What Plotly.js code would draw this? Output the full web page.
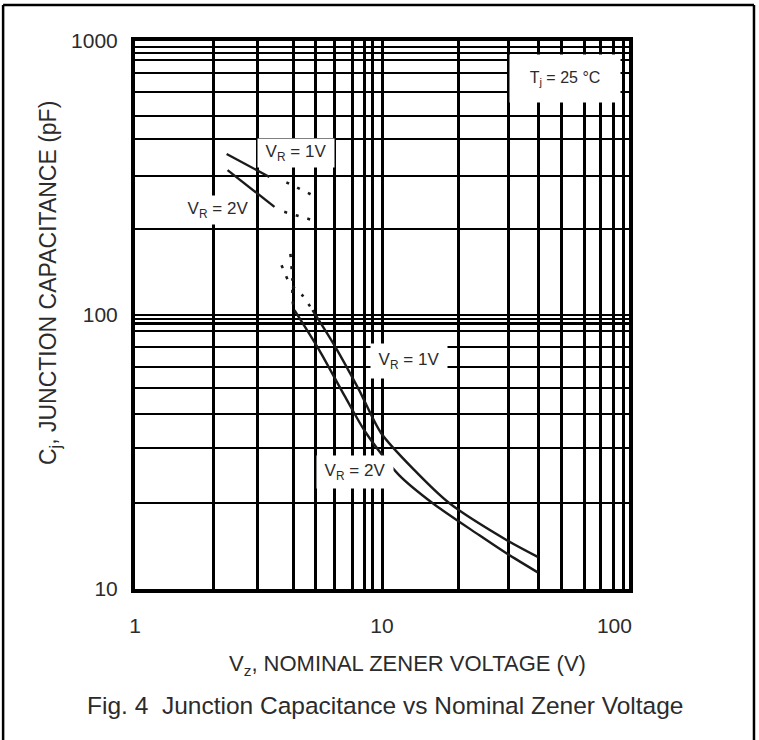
<!DOCTYPE html>
<html>
<head>
<meta charset="utf-8">
<script src="https://cdn.plot.ly/plotly-3.0.1.min.js"></script>
<style>html,body{margin:0;padding:0;background:#fff;}#chart{width:759px;height:740px;}</style>
</head>
<body>
<div id="chart"></div>
<script>
// Gridline values (as drawn on the scanned datasheet chart)
var xGrid = [1, 2.07, 3.13, 4.38, 5.37, 6.4, 7.57, 8.53, 9.12, 10, 20.4, 32.5, 43.1, 53.5, 66.2, 76.9, 86.9, 94.6, 100];
var yGrid = [10, 20.6, 32.7, 43.5, 54.2, 64.6, 76.4, 87.4, 92.9, 96.8, 100, 206, 322, 439, 532, 651, 764, 852, 904, 951, 1000];
var xLabeled = {1: '1', 10: '10', 100: '100\u00a0\u00a0\u00a0\u00a0\u00a0'};
var yLabeled = {10: '10', 100: '100', 1000: '1000'};

// VR = 1V curve (solid main part)
var vr1X = [5.23, 6.40, 8.08, 9.91, 13.5, 18.7, 31.9, 42.7];
var vr1Y = [104.2, 77.8, 53.2, 37.1, 27.2, 20.6, 15.1, 13.1];
// VR = 2V curve (solid main part)
var vr2X = [4.42, 5.57, 7.03, 8.62, 11.7, 16.0, 24.8, 31.9, 42.7];
var vr2Y = [104.2, 74.5, 51.0, 37.1, 26.1, 20.6, 15.7, 13.5, 11.5];
// dotted lead-ins of the main curves
var vr1LeadX = [3.92, 4.22, 4.76, 5.23];
var vr1LeadY = [152, 131, 118, 104.2];
var vr2LeadX = [4.26, 4.34, 4.34, 4.42];
var vr2LeadY = [167, 134, 113.5, 104.2];
// low-voltage segments (upper left)
var vr1LowX = [2.35, 3.5];
var vr1LowY = [387, 319];
var vr2LowX = [2.37, 3.67];
var vr2LowY = [338, 248];
var vr1LowDotX = [4.1, 5.22];
var vr1LowDotY = [305, 274];
var vr2LowDotX = [4.02, 5.22];
var vr2LowDotY = [238, 222];

var ink = '#1a1a1a';
var txt = '#2b2b2b';
var font = 'Liberation Sans, Arial, Helvetica, sans-serif';

function solid(x, y) {
  return {x: x, y: y, type: 'scatter', mode: 'lines', hoverinfo: 'skip',
    line: {color: ink, width: 2.4, shape: 'spline', smoothing: 0.8}, showlegend: false};
}
function dotted(x, y) {
  return {x: x, y: y, type: 'scatter', mode: 'lines', hoverinfo: 'skip',
    line: {color: ink, width: 2.6, dash: '3px,9px', shape: 'spline', smoothing: 0.6}, showlegend: false};
}

var data = [
  solid(vr1X, vr1Y), solid(vr2X, vr2Y),
  dotted(vr1LeadX, vr1LeadY), dotted(vr2LeadX, vr2LeadY),
  solid(vr1LowX, vr1LowY), solid(vr2LowX, vr2LowY),
  dotted(vr1LowDotX, vr1LowDotY), dotted(vr2LowDotX, vr2LowDotY)
];

function labelBox(text, x, y, w, h, size) {
  return {text: text, x: x, y: y, xref: 'paper', yref: 'paper', showarrow: false,
    xanchor: 'center', yanchor: 'middle', width: w, height: h,
    bgcolor: '#ffffff', borderpad: 0, font: {family: font, size: size, color: txt}};
}

var layout = {
  width: 759, height: 740,
  margin: {l: 135, r: 130, t: 41, b: 151},
  paper_bgcolor: '#ffffff', plot_bgcolor: '#ffffff',
  showlegend: false,
  font: {family: font, color: txt},
  xaxis: {
    type: 'log', range: [0, 2], tickmode: 'array',
    tickvals: xGrid, ticktext: xGrid.map(function (v) { return xLabeled[v] || ''; }),
    ticks: '', showgrid: true, gridcolor: '#000', gridwidth: 3,
    showline: true, mirror: true, linecolor: '#000', linewidth: 4,
    tickfont: {family: font, size: 21, color: txt}, ticklabelstandoff: 15,
    zeroline: false, fixedrange: true
  },
  yaxis: {
    type: 'log', range: [1, 3], tickmode: 'array',
    tickvals: yGrid, ticktext: yGrid.map(function (v) { return yLabeled[v] || ''; }),
    ticks: '', showgrid: true, gridcolor: '#000', gridwidth: 2.6,
    showline: true, mirror: true, linecolor: '#000', linewidth: 4,
    tickfont: {family: font, size: 21, color: txt}, ticklabelstandoff: 9,
    zeroline: false, fixedrange: true
  },
  annotations: [
    labelBox('T<sub>j</sub> = 25 °C', 0.870, 0.9307, 110, 47, 16),
    labelBox('V<sub>R</sub> = 1V', 0.326, 0.7956, 76, 28, 17),
    labelBox('V<sub>R</sub> = 2V', 0.168, 0.6916, 74, 28, 17),
    labelBox('V<sub>R</sub> = 1V', 0.5547, 0.416, 76, 34, 17),
    labelBox('V<sub>R</sub> = 2V', 0.4453, 0.2135, 76, 32, 17),
    {text: 'C<sub>j</sub>, JUNCTION CAPACITANCE (pF)', x: -0.172, y: 0.5584, xref: 'paper', yref: 'paper',
     showarrow: false, textangle: -90, xanchor: 'center', yanchor: 'middle',
     font: {family: font, size: 23, color: txt}},
    {text: 'V<sub>z</sub>, NOMINAL ZENER VOLTAGE (V)', x: 0.551, y: -0.1387, xref: 'paper', yref: 'paper',
     showarrow: false, xanchor: 'center', yanchor: 'middle',
     font: {family: font, size: 22, color: txt}},
    {text: 'Fig. 4  Junction Capacitance vs Nominal Zener Voltage', x: 0.506, y: -0.2117, xref: 'paper', yref: 'paper',
     showarrow: false, xanchor: 'center', yanchor: 'middle',
     font: {family: font, size: 24.5, color: txt}}
  ],
  shapes: [
    {type: 'line', xref: 'paper', yref: 'paper', x0: -0.267, x1: 1.253, y0: 1.0657, y1: 1.0657, line: {color: '#000', width: 2.5}},
    {type: 'line', xref: 'paper', yref: 'paper', x0: -0.267, x1: -0.267, y0: 1.0657, y1: -0.3, line: {color: '#000', width: 2.5}},
    {type: 'line', xref: 'paper', yref: 'paper', x0: 1.253, x1: 1.253, y0: 1.0657, y1: -0.3, line: {color: '#000', width: 2.5}}
  ]
};

Plotly.newPlot('chart', data, layout, {displayModeBar: false, staticPlot: true});
</script>
</body>
</html>
